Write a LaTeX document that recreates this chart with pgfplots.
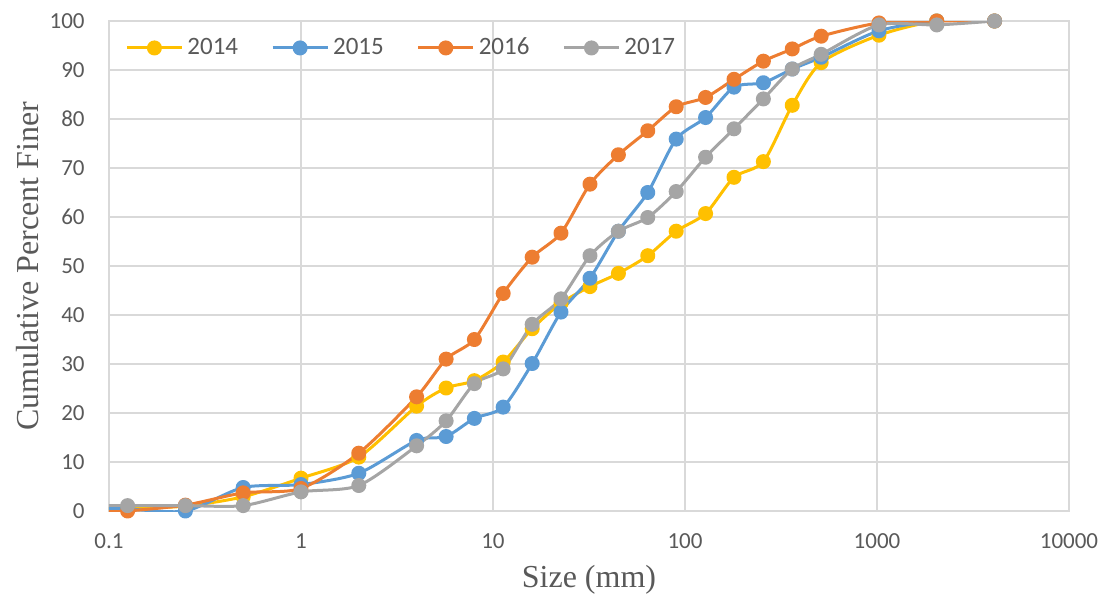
\documentclass[border=0pt]{standalone}
\usepackage{pgfplots}
\pgfplotsset{compat=1.18}
\usepackage{pgfplotstable}
\usepackage{fontspec}
\setmainfont{Liberation Serif}
\newfontfamily\carlito{Carlito}
\definecolor{c14}{HTML}{FFC000}
\definecolor{c15}{HTML}{5B9BD5}
\definecolor{c16}{HTML}{ED7D31}
\definecolor{c17}{HTML}{A5A5A5}
\definecolor{txt}{HTML}{595959}
\definecolor{grd}{HTML}{D9D9D9}

\pgfplotstableread{
size y14 y15 y16 y17
0.125 0.5 0.5 0 1.1
0.25 1 0 1.2 1.1
0.5 2.9 4.8 3.7 1.1
1 6.7 5.4 4.6 3.9
2 11 7.7 11.8 5.2
4 21.4 14.4 23.3 13.3
5.7 25.1 15.2 31 18.4
8 26.6 18.9 35 26
11.3 30.4 21.2 44.4 29
16 37.2 30.1 51.8 38.1
22.6 42.4 40.6 56.7 43.3
32 45.8 47.5 66.7 52.1
45 48.5 57.1 72.7 57.1
64 52.1 65 77.6 59.9
90 57.1 75.9 82.5 65.2
128 60.7 80.3 84.4 72.2
180 68.1 86.5 88.1 78
256 71.3 87.4 91.8 84.1
362 82.8 90.2 94.3 90.2
512 91.5 92.6 96.9 93.2
1024 97.1 98 99.6 99.2
2048 100 100 100 99.2
4096 100 100 100 100
}\data

\pgfplotstableread{
size y14 y15 y16 y17
0.0625 0.5 0.5 0 1.1
0.125 0.5 0.5 0 1.1
}\ext

\begin{document}
\begin{tikzpicture}
\begin{axis}[
  scale only axis, width=480pt, height=245pt,
  xmode=log, log basis x=10,
  xmin=0.1, xmax=10000, ymin=0, ymax=100,
  xtick={0.1,1,10,100,1000,10000},
  xticklabels={0.1,1,10,100,1000,10000},
  xminorticks=false,
  ytick={0,10,...,100},
  grid=major,
  major grid style={draw=grd, line width=0.75pt},
  axis line style={draw=grd, line width=0.75pt},
  major tick length=0pt,
  ticklabel style={font=\carlito\fontsize{11.5}{13}\selectfont, text=txt, inner sep=0pt},
  xticklabel style={anchor=center, yshift=-15pt},
  yticklabel style={anchor=east, xshift=-12pt},
  /pgf/number format/assume math mode=true,
  xlabel={Size (mm)},
  ylabel={Cumulative Percent Finer},
  label style={font=\fontsize{16}{18}\selectfont, text=txt},
  xlabel style={at={(axis description cs:0.5,-0.1408)}, anchor=center},
  ylabel style={at={(axis description cs:-0.0844,0.5)}, anchor=center},
  legend style={at={(axis description cs:0.0167,0.945)}, anchor=west,
    draw=none, fill=none, inner sep=0pt,
    font=\carlito\fontsize{12.5}{14}\selectfont, text=txt,
    /tikz/every even column/.append style={column sep=14.5pt}},
  legend columns=4,
  legend image code/.code={\draw[mark repeat=2,mark phase=2] plot coordinates {(0pt,0pt) (13.75pt,0pt) (27.5pt,0pt)};},
  every axis plot/.append style={line width=1.5pt, line join=round},
]
\addplot[c14, no marks, forget plot] table[x=size,y=y14] {\ext};
\addplot[c15, no marks, forget plot] table[x=size,y=y15] {\ext};
\addplot[c16, no marks, forget plot] table[x=size,y=y16] {\ext};
\addplot[c17, no marks, forget plot] table[x=size,y=y17] {\ext};
\addplot[c14, smooth, tension=0.45, mark=*, mark size=3pt, mark options={solid, fill=c14}] table[x=size,y=y14] {\data};
\addlegendentry{2014}
\addplot[c15, smooth, tension=0.45, mark=*, mark size=3pt, mark options={solid, fill=c15}] table[x=size,y=y15] {\data};
\addlegendentry{2015}
\addplot[c16, smooth, tension=0.45, mark=*, mark size=3pt, mark options={solid, fill=c16}] table[x=size,y=y16] {\data};
\addlegendentry{2016}
\addplot[c17, smooth, tension=0.45, mark=*, mark size=3pt, mark options={solid, fill=c17}] table[x=size,y=y17] {\data};
\addlegendentry{2017}
\end{axis}
\pgfresetboundingbox
\path (-54.5pt,-45.5pt) rectangle (498pt,255.5pt);
\end{tikzpicture}
\end{document}
